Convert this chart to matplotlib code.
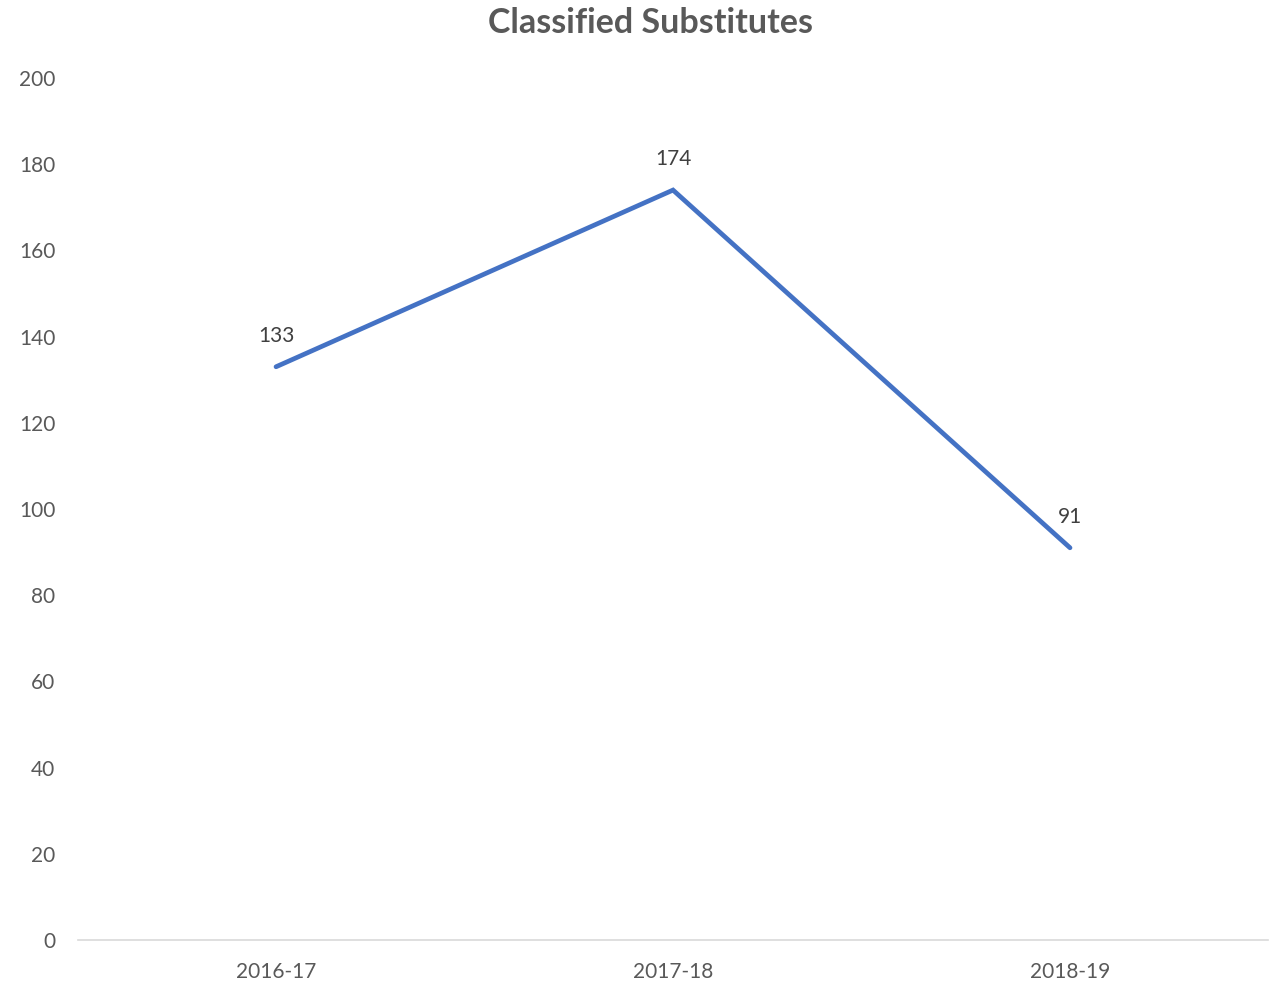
import matplotlib.pyplot as plt

plt.rcParams['font.family'] = ['Lato', 'DejaVu Sans']

years = ["2016-17", "2017-18", "2018-19"]
subs = [133, 174, 91]
yticks = [0, 20, 40, 60, 80, 100, 120, 140, 160, 180, 200]

txt = "#595959"
blue = "#4472C4"

fig = plt.figure(figsize=(12.69, 9.85), dpi=100)
ax = fig.add_axes([0.0611, 0.0457, 0.9385, 0.8751])

x = list(range(len(years)))
ax.plot(x, subs, color=blue, linewidth=3.4, solid_capstyle="round", solid_joinstyle="miter")

# value labels above each point
for xi, v in zip(x, subs):
    ax.annotate(str(v), (xi, v), xytext=(0, 15), textcoords="offset points",
                ha="center", va="bottom", fontsize=15, color="#404040")

ax.set_xlim(-0.5, 2.5)
ax.set_ylim(0, 200)
ax.set_xticks(x)
ax.set_xticklabels(years)
ax.set_yticks(yticks)
ax.tick_params(axis="both", length=0, labelsize=15, colors=txt)
ax.tick_params(axis="y", pad=16)
ax.tick_params(axis="x", pad=16)

for s in ["top", "right", "left"]:
    ax.spines[s].set_visible(False)
ax.spines["bottom"].set_color("#D9D9D9")
ax.spines["bottom"].set_linewidth(1.2)

fig.text(0.5125, 0.977, "Classified Substitutes", ha="center", va="center",
         fontsize=24.5, fontweight="bold", color=txt)

fig.savefig("out.png", dpi=100)
